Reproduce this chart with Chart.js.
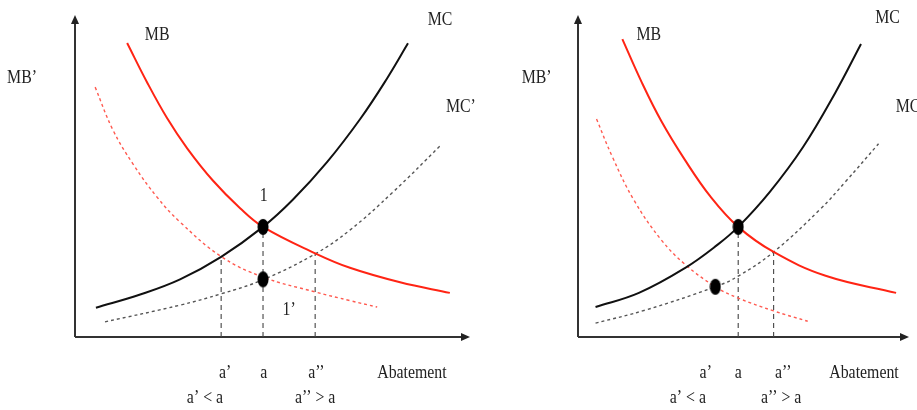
<!DOCTYPE html>
<html>
<head>
<meta charset="utf-8">
<title>Abatement MB / MC</title>
<script src="https://cdn.jsdelivr.net/npm/chart.js"></script>
<style>
  body { margin:0; background:#fff; }
  canvas { position:absolute; top:0; }
  #left { left:0; }
  #right { left:478px; }
</style>
</head>
<body>
<canvas id="left" width="478" height="410"></canvas>
<canvas id="right" width="439" height="410"></canvas>
<script>
// curves, [abatement, value] on a 0-100 grid
const leftMB  = [[13.2,91.3],[18.2,79.2],[23.3,68.0],[28.4,58.6],[34.9,48.6],[41.8,40.0],[47.6,34.2],[60.8,26.0],[69.6,21.5],[82.3,17.0],[94.9,13.7]];
const leftMC  = [[5.3,9.1],[16.5,13.2],[26.6,17.9],[37.0,24.9],[47.6,34.2],[55.2,42.7],[63.8,54.3],[72.2,67.7],[79.0,80.3],[84.3,91.2]];
const leftMBp = [[5.1,77.6],[9.6,64.3],[14.7,53.7],[20.8,43.4],[26.6,35.7],[37.0,25.0],[47.6,18.6],[60.8,14.0],[69.6,11.3],[76.5,9.3]];
const leftMCp = [[7.6,4.7],[26.6,9.9],[37.0,13.4],[47.6,17.8],[60.8,25.8],[69.6,33.2],[80.5,45.0],[92.4,59.3]];
const leftDrops = [[37.0,25.0],[47.6,34.2],[60.8,26.0]];   // a', a, a''
const leftDots  = [[47.6,34.2],[47.6,17.9]];

const rightMB  = [[13.4,92.5],[19.3,79.0],[25.2,67.0],[32.3,55.0],[40.1,43.5],[48.4,34.2],[59.1,26.4],[74.8,19.0],[96.1,13.7]];
const rightMC  = [[5.3,9.3],[18.4,13.7],[32.3,21.4],[42.1,28.6],[48.4,34.2],[57.9,45.0],[68.0,59.0],[77.7,75.8],[85.5,91.0]];
const rightMBp = [[5.6,67.7],[10.4,55.9],[16.9,42.5],[25.2,30.1],[32.3,22.6],[41.5,15.6],[48.4,12.1],[59.1,8.1],[69.4,4.9]];
const rightMCp = [[5.3,4.3],[20.5,8.4],[41.5,15.6],[48.4,18.9],[59.1,26.4],[73.3,39.8],[80.7,48.1],[90.8,60.0]];
const rightDrops = [[48.4,34.2],[59.1,26.4]];               // a, a''
const rightDots  = [[48.4,34.2],[41.5,15.6]];

const curveNames = ['MB', 'MC', 'MC’', 'MB’'];
const leftNamePos  = [[20.8,93.8],[92.4,98.4],[97.7,71.4],[-13.4,80.4]];
const rightNamePos = [[21.4,93.8],[93.5,99.1],[100.5,71.4],[-12.5,80.4]];

const tickLabels = ['a’', 'a', 'a’’', 'Abatement'];
const leftTickX  = [38.0, 47.8, 61.1, 85.3];
const rightTickX = [38.6, 48.4, 62.0, 86.4];
const compareLabels = ['a’ < a', 'a’’ > a'];
const leftCompareX  = [32.9, 60.8];
const rightCompareX = [33.2, 61.4];
const pointNames = ['1', '1’'];
const leftPointPos = [[47.8,43.8],[54.2,8.4]];

const RED = '#ff2414';
const TXT = '#222';

// oval marker like the scanned figure
const dot = document.createElement('canvas');
dot.width = 12; dot.height = 18;
(function(){
  const c = dot.getContext('2d');
  c.fillStyle = '#000';
  c.beginPath(); c.ellipse(6, 9, 5.5, 8, 0, 0, Math.PI*2); c.fill();
})();

function pts(arr){ return arr.map(p => ({x:p[0], y:p[1]})); }

function say(ctx, s, px, py){
  ctx.save();
  ctx.translate(px, py);
  ctx.scale(0.88, 1);
  ctx.fillText(s, 0, 0);
  ctx.restore();
}

const decor = {
  id: 'decor',
  beforeDatasetsDraw(chart, args, o){
    const ctx = chart.ctx, xs = chart.scales.x, ys = chart.scales.y;
    const x0 = xs.getPixelForValue(0), y0 = ys.getPixelForValue(0);
    const xe = xs.getPixelForValue(100), ye = ys.getPixelForValue(100);
    ctx.save();
    ctx.strokeStyle = '#333'; ctx.fillStyle = '#222'; ctx.lineWidth = 2;
    ctx.beginPath(); ctx.moveTo(x0, y0); ctx.lineTo(xe - 6, y0); ctx.moveTo(x0, y0); ctx.lineTo(x0, ye + 6); ctx.stroke();
    ctx.beginPath(); ctx.moveTo(xe, y0); ctx.lineTo(xe - 9, y0 - 4); ctx.lineTo(xe - 9, y0 + 4); ctx.closePath(); ctx.fill();
    ctx.beginPath(); ctx.moveTo(x0, ye); ctx.lineTo(x0 - 4, ye + 9); ctx.lineTo(x0 + 4, ye + 9); ctx.closePath(); ctx.fill();
    ctx.restore();
  },
  afterDraw(chart, args, o){
    const ctx = chart.ctx, xs = chart.scales.x, ys = chart.scales.y;
    const X = v => xs.getPixelForValue(v), Y = v => ys.getPixelForValue(v);
    ctx.save();
    ctx.fillStyle = TXT;
    ctx.font = '18px "Liberation Serif", "DejaVu Serif", serif';
    ctx.textAlign = 'center'; ctx.textBaseline = 'middle';
    curveNames.forEach((s, i) => say(ctx, s, X(o.names[i][0]), Y(o.names[i][1])));
    tickLabels.forEach((s, i) => say(ctx, s, X(o.ticks[i]), Y(-11.2)));
    compareLabels.forEach((s, i) => say(ctx, s, X(o.compare[i]), Y(-18.9)));
    (o.points || []).forEach((p, i) => say(ctx, pointNames[i], X(p[0]), Y(p[1])));
    ctx.restore();
  }
};

function curve(data, color, dash, width){
  return { data: pts(data), showLine: true, borderColor: color, borderWidth: width,
           borderDash: dash, pointRadius: 0, tension: 0.4, fill: false };
}

function drops(list){
  return list.map(p => ({ data: [{x:p[0], y:0}, {x:p[0], y:p[1]}], showLine: true,
    borderColor: '#444', borderWidth: 1.1, borderDash: [5, 4], pointRadius: 0 }));
}

// chart.js paints dataset 0 last, so the dots go first and the drop lines last
function panel(id, mb, mc, mbp, mcp, dr, dots, deco, padL, padR){
  new Chart(document.getElementById(id), {
    type: 'scatter',
    data: { datasets: [
      { data: pts(dots), pointStyle: dot, pointRadius: 7 },
      curve(mc, '#111', [], 2),
      curve(mb, RED, [], 2),
      curve(mcp, '#555', [3, 3], 1.4),
      curve(mbp, '#ff5a50', [3, 3], 1.4),
      ...drops(dr)
    ]},
    options: {
      responsive: false, animation: false,
      layout: { padding: { left: padL, right: padR, top: 15, bottom: 73 } },
      scales: {
        x: { type: 'linear', min: 0, max: 100, display: false },
        y: { type: 'linear', min: 0, max: 100, display: false }
      },
      plugins: { legend: { display: false }, tooltip: { enabled: false }, decor: deco }
    },
    plugins: [decor]
  });
}

panel('left', leftMB, leftMC, leftMBp, leftMCp, leftDrops, leftDots,
      { names: leftNamePos, ticks: leftTickX, compare: leftCompareX, points: leftPointPos }, 75, 8);
panel('right', rightMB, rightMC, rightMBp, rightMCp, rightDrops, rightDots,
      { names: rightNamePos, ticks: rightTickX, compare: rightCompareX }, 100, 2);
</script>
</body>
</html>
